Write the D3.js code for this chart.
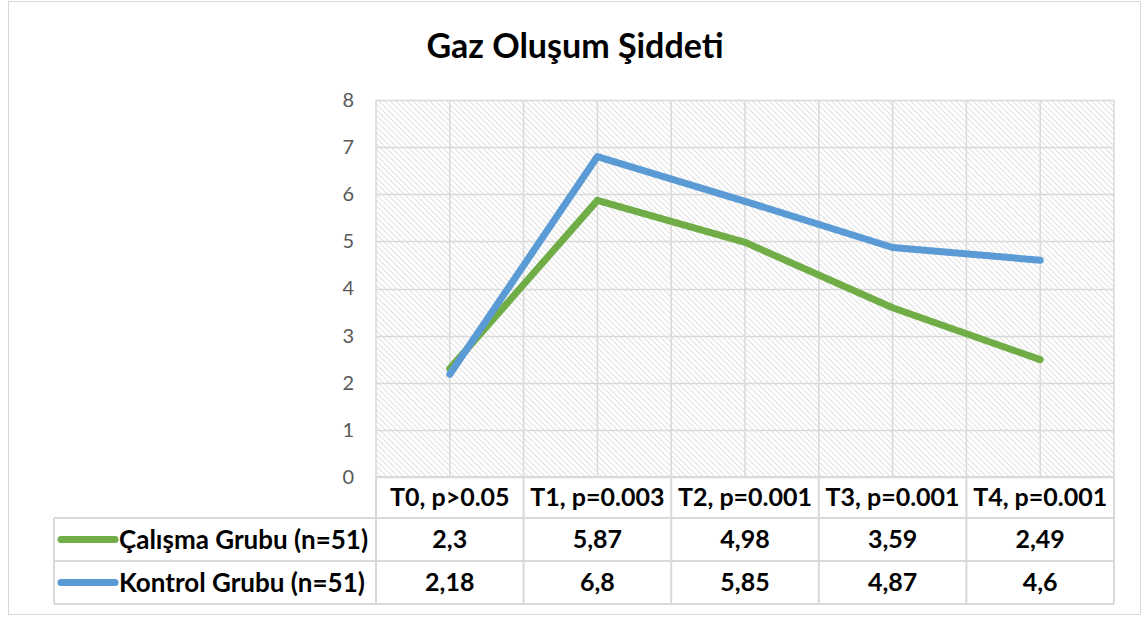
<!DOCTYPE html>
<html>
<head>
<meta charset="utf-8">
<script src="https://cdn.jsdelivr.net/npm/d3@7"></script>
<style>
  body { margin: 0; background: #fff; }
  svg { display: block; }
</style>
</head>
<body>
<div id="chart"></div>
<script>
// data
const categories = ['T0, p>0.05', 'T1, p=0.003', 'T2, p=0.001', 'T3, p=0.001', 'T4, p=0.001'];
const seriesNames = ['Çalışma Grubu (n=51)', 'Kontrol Grubu (n=51)'];
const calismaValues = [2.3, 5.87, 4.98, 3.59, 2.49];
const kontrolValues = [2.18, 6.8, 5.85, 4.87, 4.6];
const calismaLabels = ['2,3', '5,87', '4,98', '3,59', '2,49'];
const kontrolLabels = ['2,18', '6,8', '5,85', '4,87', '4,6'];
const yTicks = [0, 1, 2, 3, 4, 5, 6, 7, 8];

const series = [
  { name: seriesNames[0], values: calismaValues, labels: calismaLabels, color: '#70AD47' },
  { name: seriesNames[1], values: kontrolValues, labels: kontrolLabels, color: '#5B9BD5' }
];

const width = 1143;
const height = 617;
const font = 'Lato, "Open Sans", sans-serif';

// plot area
const plot = { left: 376, right: 1114, top: 100, bottom: 477 };
const tableLeft = 54;
const rowH = [41, 43, 43]; // header row, series rows

const svg = d3.select('#chart')
  .append('svg')
  .attr('width', width)
  .attr('height', height);

// hatch pattern for plot background
const defs = svg.append('defs');
const pattern = defs.append('pattern')
  .attr('id', 'hatch')
  .attr('patternUnits', 'userSpaceOnUse')
  .attr('width', 4)
  .attr('height', 4)
  .attr('patternTransform', 'rotate(-45)');
pattern.append('rect')
  .attr('width', 4).attr('height', 4).attr('fill', '#ffffff');
pattern.append('line')
  .attr('x1', 0).attr('y1', 0).attr('x2', 0).attr('y2', 4)
  .attr('stroke', '#d3d3d3')
  .attr('stroke-width', 1.4);

// chart outer border
svg.append('rect')
  .attr('x', 8.5).attr('y', 1.5)
  .attr('width', 1132).attr('height', 613)
  .attr('fill', '#fff')
  .attr('stroke', '#d9d9d9');

// title
svg.append('text')
  .attr('x', 575)
  .attr('y', 58)
  .attr('text-anchor', 'middle')
  .attr('font-family', font)
  .attr('font-weight', 'bold')
  .attr('font-size', '34px')
  .attr('fill', '#000')
  .text('Gaz Oluşum Şiddeti');

// scales
const x = d3.scaleBand()
  .domain(categories)
  .range([plot.left, plot.right]);

const y = d3.scaleLinear()
  .domain([0, 8])
  .range([plot.bottom, plot.top]);

// plot background
svg.append('rect')
  .attr('x', plot.left).attr('y', plot.top)
  .attr('width', plot.right - plot.left)
  .attr('height', plot.bottom - plot.top)
  .attr('fill', 'url(#hatch)');

// horizontal gridlines
svg.append('g')
  .selectAll('line')
  .data(yTicks)
  .join('line')
  .attr('x1', plot.left).attr('x2', plot.right)
  .attr('y1', d => Math.round(y(d)) + 0.5)
  .attr('y2', d => Math.round(y(d)) + 0.5)
  .attr('stroke', '#d9d9d9')
  .attr('stroke-width', 1.5);

// vertical gridlines at category edges and centres
const vLines = [];
categories.forEach(c => {
  vLines.push(x(c));
  vLines.push(x(c) + x.bandwidth() / 2);
});
vLines.push(plot.right);
svg.append('g')
  .selectAll('line')
  .data(vLines)
  .join('line')
  .attr('x1', d => d).attr('x2', d => d)
  .attr('y1', plot.top).attr('y2', plot.bottom)
  .attr('stroke', '#d9d9d9')
  .attr('stroke-width', 1.5);

// y axis labels
const yAxis = d3.axisLeft(y)
  .tickValues(yTicks)
  .tickSize(0)
  .tickPadding(22);
svg.append('g')
  .attr('transform', `translate(${plot.left},0)`)
  .call(yAxis)
  .call(g => g.select('.domain').remove())
  .selectAll('text')
  .attr('font-family', font)
  .attr('font-size', '20px')
  .attr('fill', '#595959');

// lines
const line = d3.line()
  .x((d, i) => x(categories[i]) + x.bandwidth() / 2)
  .y(d => y(d));

series.forEach(s => {
  svg.append('path')
    .datum(s.values)
    .attr('d', line)
    .attr('fill', 'none')
    .attr('stroke', s.color)
    .attr('stroke-width', 7)
    .attr('stroke-linejoin', 'round')
    .attr('stroke-linecap', 'round');
});

// data table
const table = svg.append('g');
const headerTop = plot.bottom;
const row1Top = headerTop + rowH[0];
const row2Top = row1Top + rowH[1];
const tableBottom = row2Top + rowH[2];
const gridColor = '#d9d9d9';

const tline = (x1, y1, x2, y2) => table.append('line')
  .attr('x1', x1).attr('y1', y1).attr('x2', x2).attr('y2', y2)
  .attr('stroke', gridColor)
  .attr('stroke-width', 2);

// horizontal table rules
tline(plot.left, headerTop, plot.right, headerTop);
tline(tableLeft, row1Top, plot.right, row1Top);
tline(tableLeft, row2Top, plot.right, row2Top);
tline(tableLeft, tableBottom, plot.right, tableBottom);
// vertical table rules
tline(tableLeft, row1Top, tableLeft, tableBottom);
categories.forEach(c => tline(x(c), headerTop, x(c), tableBottom));
tline(plot.right, headerTop, plot.right, tableBottom);

// header labels
table.selectAll('.hdr')
  .data(categories)
  .join('text')
  .attr('class', 'hdr')
  .attr('x', d => x(d) + x.bandwidth() / 2)
  .attr('y', headerTop + rowH[0] / 2)
  .attr('dy', '0.35em')
  .attr('text-anchor', 'middle')
  .attr('font-family', font)
  .attr('font-weight', 'bold')
  .attr('font-size', '25px')
  .attr('fill', '#000')
  .text(d => d);

// series rows
const rowTops = [row1Top, row2Top];
series.forEach((s, si) => {
  const cy = rowTops[si] + rowH[si + 1] / 2;

  // legend key
  table.append('line')
    .attr('x1', 61).attr('x2', 115)
    .attr('y1', cy).attr('y2', cy)
    .attr('stroke', s.color)
    .attr('stroke-width', 7)
    .attr('stroke-linecap', 'round');

  table.append('text')
    .attr('x', 119)
    .attr('y', cy)
    .attr('dy', '0.35em')
    .attr('font-family', font)
    .attr('font-weight', 'bold')
    .attr('font-size', '26px')
    .attr('fill', '#000')
    .text(s.name);

  table.selectAll(`.val${si}`)
    .data(s.labels)
    .join('text')
    .attr('class', `val${si}`)
    .attr('x', (d, i) => x(categories[i]) + x.bandwidth() / 2)
    .attr('y', cy)
    .attr('dy', '0.35em')
    .attr('text-anchor', 'middle')
    .attr('font-family', font)
    .attr('font-weight', 'bold')
    .attr('font-size', '25px')
    .attr('fill', '#000')
    .text(d => d);
});
</script>
</body>
</html>
